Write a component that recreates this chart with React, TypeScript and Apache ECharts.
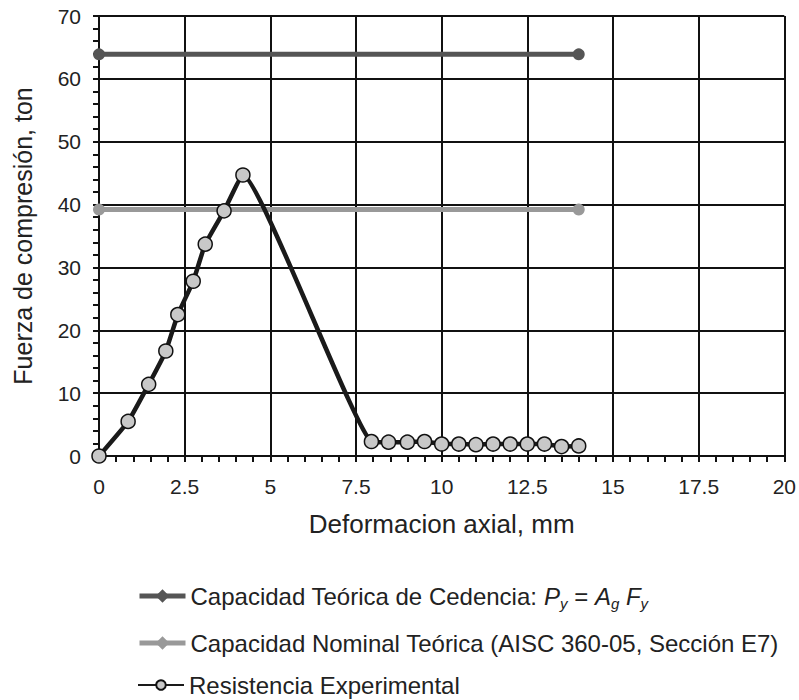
import React, { useEffect, useRef } from "react";
import * as echarts from "echarts";

const seriesNames = [
  "Capacidad Teórica de Cedencia",
  "Capacidad Nominal Teórica (AISC 360-05, Sección E7)",
  "Resistencia Experimental",
];

const yieldX = [0, 14];
const yieldY = [63.9, 63.9];
const nominalX = [0, 14];
const nominalY = [39.2, 39.2];

const expX = [0, 0.85, 1.45, 1.95, 2.3, 2.75, 3.1, 3.65, 4.2, 7.95, 8.45, 9.0, 9.5, 10.0, 10.5, 11.0, 11.5, 12.0, 12.5, 13.0, 13.5, 14.0];
const expY = [0, 5.5, 11.4, 16.7, 22.5, 27.8, 33.7, 39.0, 44.7, 2.3, 2.2, 2.2, 2.3, 1.9, 1.9, 1.8, 1.9, 1.9, 1.9, 1.9, 1.5, 1.6];

const font = "'Liberation Sans', Arial, Helvetica, sans-serif";
const textColor = "#222";
const legendFont = 24;

export default function App() {
  const ref = useRef<HTMLDivElement>(null);
  useEffect(() => {
    if (!ref.current) return;
    const chart = echarts.init(ref.current, null, { renderer: "svg" });
    const zip = (xs: number[], ys: number[]) => xs.map((x, i) => [x, ys[i]]);
    const legendBase = {
      orient: "vertical",
      left: 137,
      padding: 0,
      itemGap: 0,
      itemWidth: 46,
      itemHeight: 12,
      textStyle: { fontFamily: font, fontSize: legendFont, color: textColor },
      selectedMode: false,
    };
    const axisLineStyle = { color: "#111", width: 2 };
    const option: any = {
      animation: false,
      textStyle: { fontFamily: font },
      grid: { left: 99, right: 14, top: 16, bottom: 244 },
      xAxis: {
        type: "value",
        min: 0,
        max: 20,
        interval: 2.5,
        name: "Deformacion axial, mm",
        nameLocation: "middle",
        nameGap: 55,
        nameTextStyle: { fontFamily: font, fontSize: 26, color: textColor },
        axisLine: { show: true, onZero: false, lineStyle: axisLineStyle },
        axisTick: { show: true, length: 6, lineStyle: axisLineStyle },
        minorTick: { show: true, splitNumber: 5, length: 6, lineStyle: axisLineStyle },
        axisLabel: { fontFamily: font, fontSize: 21, color: textColor, margin: 20 },
        splitLine: { show: true, lineStyle: axisLineStyle },
      },
      yAxis: {
        type: "value",
        min: 0,
        max: 70,
        interval: 10,
        name: "Fuerza de compresión, ton",
        nameLocation: "middle",
        nameGap: 64,
        nameTextStyle: { fontFamily: font, fontSize: 25, color: textColor },
        axisLine: { show: true, onZero: false, lineStyle: axisLineStyle },
        axisTick: { show: true, length: 6, lineStyle: axisLineStyle },
        minorTick: { show: true, splitNumber: 5, length: 6, lineStyle: axisLineStyle },
        axisLabel: { fontFamily: font, fontSize: 21, color: textColor, margin: 18 },
        splitLine: { show: true, lineStyle: axisLineStyle },
      },
      legend: [
        {
          ...legendBase,
          top: 584,
          itemHeight: 17,
          data: [seriesNames[0]],
          formatter: () =>
            "{t|Capacidad Teórica de Cedencia: }{i|P}{s|y}{t| = }{i|A}{s|g}{t| }{i|F}{s|y}",
          textStyle: {
            fontFamily: font,
            fontSize: legendFont,
            color: textColor,
            rich: {
              t: { fontFamily: font, fontSize: legendFont, color: textColor },
              i: { fontFamily: font, fontSize: legendFont, color: textColor, fontStyle: "italic" },
              s: { fontFamily: font, fontSize: 15, color: textColor, fontStyle: "italic", padding: [14, 0, 0, 0] },
            },
          },
          lineStyle: { width: 5 },
        },
        {
          ...legendBase,
          top: 631,
          itemHeight: 17,
          data: [seriesNames[1]],
          lineStyle: { width: 5 },
        },
        {
          ...legendBase,
          top: 673,
          data: [seriesNames[2]],
          lineStyle: { width: 2 },
        },
      ],
      series: [
        {
          name: seriesNames[0],
          type: "line",
          data: zip(yieldX, yieldY).map((v) => ({ value: v, symbol: "circle" })),
          symbol: "diamond",
          symbolSize: 12,
          itemStyle: { color: "#555" },
          lineStyle: { color: "#555", width: 5 },
          z: 2,
        },
        {
          name: seriesNames[1],
          type: "line",
          data: zip(nominalX, nominalY).map((v) => ({ value: v, symbol: "circle" })),
          symbol: "diamond",
          symbolSize: 12,
          itemStyle: { color: "#999" },
          lineStyle: { color: "#999", width: 5 },
          z: 2,
        },
        {
          name: seriesNames[2],
          type: "line",
          data: zip(expX, expY),
          smooth: 0.12,
          symbol: "circle",
          symbolSize: 14,
          itemStyle: { color: "#c8c8c8", borderColor: "#111", borderWidth: 1.5 },
          lineStyle: { color: "#1a1a1a", width: 4.5 },
          z: 3,
        },
      ],
    };
    chart.setOption(option);
    return () => chart.dispose();
  }, []);
  return (
    <div
      ref={ref}
      style={{ position: "fixed", left: 0, top: 0, width: 799, height: 700, background: "#fff" }}
    />
  );
}
